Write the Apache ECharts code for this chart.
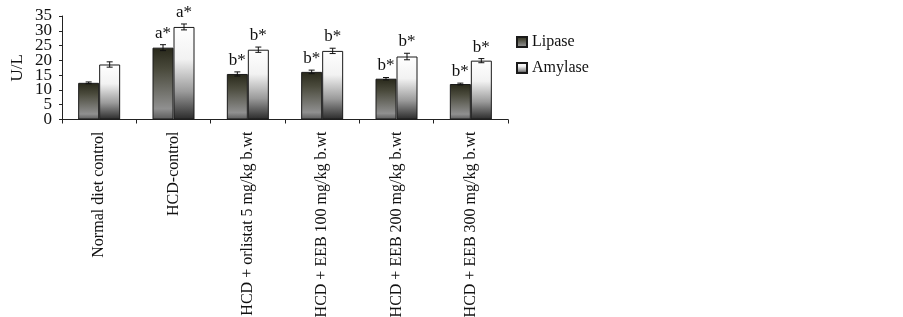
<!DOCTYPE html>
<html><head><meta charset="utf-8">
<script src="https://cdn.jsdelivr.net/npm/echarts@6/dist/echarts.min.js"></script>
<style>html,body{margin:0;padding:0;background:#fff}#c{width:903px;height:317px}</style>
</head><body><div id="c"></div>
<script>
const categories = ['Normal diet control','HCD-control','HCD + orlistat 5 mg/kg b.wt','HCD + EEB 100 mg/kg b.wt','HCD + EEB 200 mg/kg b.wt','HCD + EEB 300 mg/kg b.wt'];
const lipase = [12.4, 24.3, 15.4, 16.1, 13.8, 12.0];
const lipaseErr = [0.3, 1.0, 0.7, 0.6, 0.4, 0.3];
const amylase = [18.6, 31.3, 23.6, 23.2, 21.3, 19.9];
const amylaseErr = [0.9, 1.0, 0.9, 0.9, 1.1, 0.7];
const lipaseSig = ['', 'a*', 'b*', 'b*', 'b*', 'b*'];
const amylaseSig = ['', 'a*', 'b*', 'b*', 'b*', 'b*'];
const yTicks = [0, 5, 10, 15, 20, 25, 30, 35];

const FONT = 'Liberation Serif';
const BW = 21;
const chart = echarts.init(document.getElementById('c'));

function errSeries(name, vals, errs, sig, side) {
  return {
    type: 'custom', name: name + ' err', silent: true, z: 10,
    data: vals.map((v, i) => [i, v, errs[i]]),
    renderItem: function (params, api) {
      const i = api.value(0), v = api.value(1), e = api.value(2);
      const s = sig[i];
      const c = api.coord([i, v]);
      const x = c[0] + side * BW / 2;
      const yt = api.coord([i, v + e])[1];
      const yb = api.coord([i, v - e])[1];
      const cap = 3;
      const st = { stroke: '#111', lineWidth: 1 };
      const ch = [
        { type: 'line', shape: { x1: x, y1: yt, x2: x, y2: yb }, style: st },
        { type: 'line', shape: { x1: x - cap, y1: yt, x2: x + cap, y2: yt }, style: st },
        { type: 'line', shape: { x1: x - cap, y1: yb, x2: x + cap, y2: yb }, style: st }
      ];
      if (s) ch.push({ type: 'text', style: { text: s, x: x, y: yt - 3, align: 'center', verticalAlign: 'bottom', font: '17px "' + FONT + '"', fill: '#111' } });
      return { type: 'group', children: ch };
    }
  };
}

chart.setOption({
  animation: false,
  textStyle: { fontFamily: FONT },
  grid: { left: 62, right: 395, top: 16, bottom: 197.5, containLabel: false, outerBoundsMode: 'none' },
  legend: {
    orient: 'vertical', left: 511, top: 29, itemWidth: 10, itemHeight: 10, itemGap: 10, icon: 'rect',
    textStyle: { fontFamily: FONT, fontSize: 16, color: '#111' },
    data: ['Lipase', 'Amylase']
  },
  xAxis: {
    type: 'category', data: categories,
    axisLine: { lineStyle: { color: '#222', width: 1 } },
    axisTick: { show: true, length: 4, lineStyle: { color: '#222' } },
    axisLabel: { rotate: 90, margin: 12, fontFamily: FONT, fontSize: 16, color: '#111', interval: 0, hideOverlap: false }
  },
  yAxis: {
    type: 'value', min: yTicks[0], max: yTicks[yTicks.length - 1], interval: 5,
    name: 'U/L', nameLocation: 'middle', nameGap: 36, nameRotate: 90,
    nameTextStyle: { fontFamily: FONT, fontSize: 17, color: '#111' },
    splitLine: { show: false },
    axisLine: { show: true, lineStyle: { color: '#222', width: 1 } },
    axisTick: { show: true, length: 3, lineStyle: { color: '#222' } },
    axisLabel: { show: false }
  },
  series: [
    {
      name: 'Lipase', type: 'bar', data: lipase, barWidth: BW, barGap: '0%',
      itemStyle: {
        borderColor: '#1a1a1a', borderWidth: 1,
        color: new echarts.graphic.LinearGradient(0, 0, 0, 1, [
          { offset: 0, color: '#28281a' }, { offset: 0.3, color: '#4a4a3c' },
          { offset: 0.85, color: '#909090' }, { offset: 1, color: '#5a5a5a' }])
      }
    },
    {
      name: 'Amylase', type: 'bar', data: amylase, barWidth: BW,
      itemStyle: {
        borderColor: '#1a1a1a', borderWidth: 1,
        color: new echarts.graphic.LinearGradient(0, 0, 0, 1, [
          { offset: 0, color: '#ffffff' }, { offset: 0.35, color: '#f2f2f2' },
          { offset: 0.7, color: '#9a9a9a' }, { offset: 1, color: '#2a2a2a' }])
      }
    },
    errSeries('Lipase', lipase, lipaseErr, lipaseSig, -1),
    errSeries('Amylase', amylase, amylaseErr, amylaseSig, 1),
    {
      type: 'custom', name: 'yticklabels', silent: true, clip: false,
      data: yTicks.map(v => [0, v]),
      renderItem: function (params, api) {
        const v = api.value(1);
        const y = api.coord([0, v])[1];
        return { type: 'text', style: { text: String(v), x: params.coordSys.x - 10, y: y, align: 'right', verticalAlign: 'middle', font: '17px "' + FONT + '"', fill: '#111' } };
      }
    }
  ]
});
</script></body></html>
